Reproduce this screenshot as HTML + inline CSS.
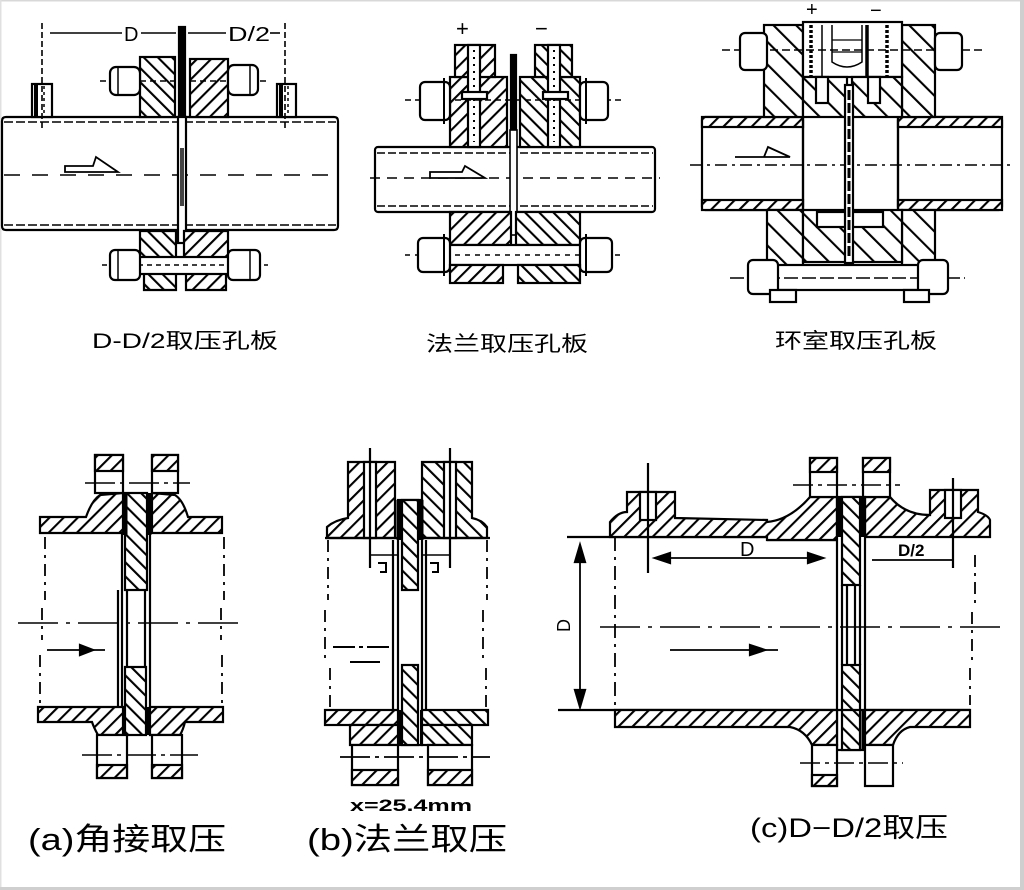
<!DOCTYPE html>
<html><head><meta charset="utf-8"><style>
html,body{margin:0;padding:0;background:#fff;}
svg{display:block}
text{font-family:"Liberation Sans","Noto Sans CJK SC",sans-serif;fill:#000;stroke:none}
</style></head><body>
<svg width="1024" height="890" viewBox="0 0 1024 890" xmlns="http://www.w3.org/2000/svg">
<defs>
<pattern id="hf" width="10" height="10" patternUnits="userSpaceOnUse" patternTransform="rotate(45)"><rect width="10" height="10" fill="#fff"/><line x1="1" y1="0" x2="1" y2="10" stroke="#000" stroke-width="2.2"/></pattern>
<pattern id="hb" width="10" height="10" patternUnits="userSpaceOnUse" patternTransform="rotate(-45)"><rect width="10" height="10" fill="#fff"/><line x1="1" y1="0" x2="1" y2="10" stroke="#000" stroke-width="2.2"/></pattern>
<pattern id="hs" width="16" height="16" patternUnits="userSpaceOnUse" patternTransform="rotate(-45)"><rect width="16" height="16" fill="#fff"/><line x1="1" y1="0" x2="1" y2="16" stroke="#000" stroke-width="2.2"/></pattern>
</defs>
<rect width="1024" height="890" fill="#fff"/>
<!-- border -->
<rect x="0" y="0" width="1024" height="1.5" fill="#d8d8d8"/>
<rect x="0" y="0" width="1.5" height="890" fill="#e0e0e0"/>
<rect x="1020" y="0" width="4" height="890" fill="#cfcfcf"/>
<rect x="0" y="887" width="1024" height="3" fill="#cfcfcf"/>

<g stroke="#000" stroke-width="2.2" fill="none">
<!-- ============ TOP LEFT ============ -->
<path d="M6,117 H334 Q338,117 338,121 V226 Q338,230 334,230 H6 Q2,230 2,226 V121 Q2,117 6,117 Z" fill="#fff"/>
<line x1="4" y1="122" x2="336" y2="122" stroke-dasharray="9 3" stroke-width="1.6"/>
<line x1="4" y1="225" x2="336" y2="225" stroke-dasharray="9 3" stroke-width="1.6"/>
<line x1="4" y1="175" x2="336" y2="175" stroke-dasharray="16 12" stroke-width="1.6"/>
<!-- taps -->
<rect x="32" y="84" width="20" height="33" fill="#fff"/>
<line x1="36" y1="84" x2="36" y2="117" stroke-width="4"/>
<line x1="44" y1="86" x2="44" y2="116" stroke-dasharray="3 3" stroke-width="1.5"/>
<rect x="277" y="84" width="19" height="33" fill="#fff"/>
<line x1="281" y1="84" x2="281" y2="117" stroke-width="4"/>
<line x1="288" y1="86" x2="288" y2="116" stroke-dasharray="3 3" stroke-width="1.5"/>
<!-- dimension -->
<line x1="42" y1="23" x2="42" y2="128" stroke-dasharray="6 3" stroke-width="1.6"/>
<line x1="285" y1="23" x2="285" y2="128" stroke-dasharray="6 3" stroke-width="1.6"/>
<line x1="50" y1="33" x2="122" y2="33" stroke-width="1.6"/>
<line x1="141" y1="33" x2="176" y2="33" stroke-width="1.6"/>
<line x1="188" y1="33" x2="226" y2="33" stroke-width="1.6"/>
<line x1="270" y1="33" x2="280" y2="33" stroke-width="1.6"/>
<!-- top flanges -->
<rect x="140" y="57" width="35" height="60" fill="url(#hb)"/>
<rect x="190" y="59" width="38" height="58" fill="url(#hf)"/>
<line x1="100" y1="81" x2="268" y2="81" stroke-dasharray="6 4" stroke-width="1.4"/>
<rect x="110" y="67" width="30" height="28" rx="6" fill="#fff"/>
<line x1="118" y1="68" x2="118" y2="94" stroke-width="1.5"/>
<rect x="228" y="65" width="30" height="30" rx="6" fill="#fff"/>
<line x1="250" y1="66" x2="250" y2="94" stroke-width="1.5"/>
<!-- plate -->
<rect x="179" y="27" width="6" height="92" fill="#000"/>
<rect x="178" y="117" width="8" height="126" fill="#fff"/>
<rect x="180" y="148" width="4" height="58" fill="#444" stroke="none"/>
<!-- bottom flanges -->
<path d="M140,231 H176 V290 H144 V272 H140 Z" fill="url(#hb)"/>
<path d="M184,231 H228 V272 H226 V290 H186 V272 H184 Z" fill="url(#hf)"/>
<rect x="122" y="257" width="128" height="17" fill="#fff"/>
<line x1="102" y1="265" x2="268" y2="265" stroke-dasharray="5 4" stroke-width="1.4"/>
<rect x="110" y="250" width="30" height="30" rx="5" fill="#fff"/>
<line x1="118" y1="251" x2="118" y2="279" stroke-width="1.5"/>
<rect x="228" y="250" width="32" height="30" rx="5" fill="#fff"/>
<line x1="250" y1="251" x2="250" y2="279" stroke-width="1.5"/>
<!-- flow arrow -->
<path d="M65,166 H93 L96,157 L118,172 H65 Z" stroke-width="1.8" fill="#fff"/>

<!-- ============ TOP MIDDLE ============ -->
<rect x="375" y="147" width="280" height="65" rx="3" fill="#fff"/>
<line x1="377" y1="153" x2="653" y2="153" stroke-dasharray="8 3" stroke-width="1.6"/>
<line x1="377" y1="206" x2="653" y2="206" stroke-dasharray="8 3" stroke-width="1.6"/>
<line x1="370" y1="178" x2="660" y2="178" stroke-dasharray="10 7" stroke-width="1.6"/>
<!-- upper flanges -->
<rect x="450" y="77" width="57" height="70" fill="url(#hf)"/>
<rect x="455" y="45" width="40" height="32" fill="url(#hf)"/>
<rect x="468" y="45" width="12" height="102" fill="#fff"/>
<line x1="474" y1="50" x2="474" y2="142" stroke-dasharray="2 5" stroke-width="2"/>
<rect x="462" y="92" width="25" height="7" fill="#fff"/>
<rect x="520" y="77" width="60" height="70" fill="url(#hb)"/>
<rect x="535" y="45" width="37" height="32" fill="url(#hb)"/>
<rect x="548" y="45" width="12" height="102" fill="#fff"/>
<line x1="554" y1="50" x2="554" y2="142" stroke-dasharray="2 5" stroke-width="2"/>
<rect x="543" y="92" width="25" height="7" fill="#fff"/>
<line x1="405" y1="100" x2="625" y2="100" stroke-dasharray="6 4" stroke-width="1.4"/>
<rect x="420" y="82" width="30" height="38" rx="5" fill="#fff"/>
<line x1="444" y1="78" x2="444" y2="124" stroke-width="2"/>
<rect x="580" y="82" width="28" height="38" rx="5" fill="#fff"/>
<line x1="586" y1="78" x2="586" y2="124" stroke-width="2"/>
<!-- plate -->
<rect x="511" y="55" width="5" height="78" fill="#000"/>
<rect x="510" y="130" width="7" height="105" fill="#fff" stroke-width="1.6"/>
<!-- lower -->
<rect x="450" y="212" width="61" height="33" fill="url(#hf)"/>
<rect x="516" y="212" width="64" height="33" fill="url(#hb)"/>
<rect x="445" y="245" width="140" height="20" fill="#fff"/>
<line x1="405" y1="255" x2="625" y2="255" stroke-dasharray="5 5" stroke-width="1.4"/>
<rect x="418" y="238" width="32" height="34" rx="5" fill="#fff"/>
<line x1="444" y1="234" x2="444" y2="276" stroke-width="2"/>
<rect x="580" y="238" width="32" height="34" rx="5" fill="#fff"/>
<line x1="586" y1="234" x2="586" y2="276" stroke-width="2"/>
<rect x="450" y="265" width="53" height="18" fill="url(#hf)"/>
<rect x="518" y="265" width="62" height="18" fill="url(#hb)"/>
<path d="M430,172 H462 L465,166 L485,178 H430 Z" stroke-width="1.8" fill="#fff"/>

<!-- ============ TOP RIGHT ============ -->
<rect x="702" y="117" width="101" height="93" rx="3" fill="#fff"/>
<rect x="702" y="117" width="101" height="10" fill="url(#hf)"/>
<rect x="702" y="200" width="101" height="10" fill="url(#hf)"/>
<rect x="898" y="117" width="104" height="93" rx="3" fill="#fff"/>
<rect x="898" y="117" width="104" height="10" fill="url(#hf)"/>
<rect x="898" y="200" width="104" height="10" fill="url(#hf)"/>
<line x1="690" y1="165" x2="1010" y2="165" stroke-dasharray="12 5 3 5" stroke-width="1.5"/>
<!-- flanges -->
<rect x="764" y="25" width="39" height="92" fill="url(#hs)"/>
<rect x="767" y="210" width="36" height="73" fill="url(#hs)"/>
<rect x="902" y="25" width="33" height="92" fill="url(#hs)"/>
<rect x="902" y="210" width="33" height="73" fill="url(#hs)"/>
<!-- chamber top -->
<rect x="803" y="22" width="99" height="55" fill="#fff"/>
<rect x="803" y="77" width="44" height="40" fill="url(#hs)"/>
<rect x="852" y="77" width="50" height="40" fill="url(#hs)"/>
<rect x="816" y="77" width="12" height="26" fill="#fff"/>
<rect x="868" y="77" width="12" height="26" fill="#fff"/>
<line x1="811" y1="25" x2="811" y2="77" stroke-width="3.5" stroke-dasharray="3 2"/>
<line x1="822" y1="25" x2="822" y2="77" stroke-width="1.5"/>
<path d="M832,25 V62 Q847,72 862,62 V25" stroke-width="1.5" fill="#fff"/>
<line x1="832" y1="40" x2="862" y2="40" stroke-width="1.2"/>
<line x1="832" y1="52" x2="862" y2="52" stroke-width="1.2"/>
<line x1="867" y1="25" x2="867" y2="77" stroke-width="3.5"/>
<line x1="887" y1="25" x2="887" y2="77" stroke-width="3.5" stroke-dasharray="3 2"/>
<line x1="806" y1="22" x2="870" y2="22" stroke-width="1.5" stroke-dasharray="2 1"/>
<!-- chamber bottom -->
<rect x="803" y="210" width="44" height="52" fill="url(#hs)"/>
<rect x="852" y="210" width="50" height="52" fill="url(#hs)"/>
<rect x="817" y="212" width="66" height="15" fill="#fff"/>
<line x1="803" y1="117" x2="803" y2="210"/>
<line x1="898" y1="117" x2="898" y2="210"/>
<!-- plate -->
<rect x="845" y="85" width="8" height="178" fill="#fff"/>
<line x1="849" y1="90" x2="849" y2="258" stroke-width="3" stroke-dasharray="10 3"/>
<!-- nuts -->
<line x1="722" y1="50" x2="985" y2="50" stroke-dasharray="8 4" stroke-width="1.4"/>
<rect x="740" y="33" width="27" height="37" rx="5" fill="#fff"/>
<rect x="935" y="33" width="27" height="37" rx="5" fill="#fff"/>
<rect x="765" y="265" width="165" height="25" fill="#fff"/>
<line x1="730" y1="278" x2="965" y2="278" stroke-dasharray="14 4" stroke-width="1.4"/>
<rect x="748" y="260" width="30" height="34" rx="5" fill="#fff"/>
<rect x="918" y="260" width="30" height="34" rx="5" fill="#fff"/>
<rect x="770" y="290" width="26" height="12" fill="#fff"/>
<rect x="904" y="290" width="25" height="12" fill="#fff"/>
<path d="M735,157 H764 L768,147 L790,157 Z" stroke-width="1.8" fill="#fff"/>

<!-- ============ BOTTOM LEFT (a) ============ -->
<rect x="95" y="455" width="28" height="38" fill="#fff"/>
<rect x="95" y="455" width="28" height="16" fill="url(#hf)"/>
<rect x="152" y="455" width="26" height="38" fill="#fff"/>
<rect x="152" y="455" width="26" height="16" fill="url(#hf)"/>
<line x1="85" y1="483" x2="190" y2="483" stroke-dasharray="30 5 4 5" stroke-width="1.6"/>
<path d="M40,517 H86 Q92,500 100,495 L123,493 V533 H40 Z" fill="url(#hf)"/>
<path d="M152,493 L175,495 Q183,500 188,517 H222 V533 H152 Z" fill="url(#hf)"/>
<rect x="125" y="493" width="22" height="97" fill="url(#hb)"/>
<line x1="125" y1="493" x2="125" y2="535" stroke-width="5"/>
<line x1="149" y1="493" x2="149" y2="535" stroke-width="5"/>
<line x1="118" y1="590" x2="118" y2="707"/>
<line x1="122" y1="533" x2="122" y2="707"/>
<line x1="127" y1="590" x2="127" y2="667"/>
<line x1="145" y1="590" x2="145" y2="667"/>
<line x1="150" y1="533" x2="150" y2="707"/>
<rect x="125" y="667" width="21" height="68" fill="url(#hb)"/>
<path d="M38,707 H123 V735 H98 Q94,728 92,722 H38 Z" fill="url(#hf)"/>
<path d="M150,707 H223 V722 H185 Q183,730 180,735 H150 Z" fill="url(#hf)"/>
<line x1="148" y1="707" x2="148" y2="735" stroke-width="5"/>
<rect x="97" y="735" width="30" height="43" fill="#fff"/>
<rect x="97" y="765" width="30" height="13" fill="url(#hf)"/>
<rect x="152" y="735" width="30" height="43" fill="#fff"/>
<rect x="152" y="765" width="30" height="13" fill="url(#hf)"/>
<line x1="82" y1="755" x2="198" y2="755" stroke-dasharray="30 5 4 5" stroke-width="1.6"/>
<path d="M45,537 V600 M42,608 V640 M40,655 V707" stroke-dasharray="12 6 3 6" stroke-width="1.8"/>
<path d="M224,537 V600 M221,608 V640 M222,655 V707" stroke-dasharray="12 6 3 6" stroke-width="1.8"/>
<line x1="18" y1="623" x2="243" y2="623" stroke-dasharray="40 8 4 8" stroke-width="1.6"/>
<line x1="47" y1="650" x2="105" y2="650" stroke-width="1.8"/>
<path d="M80,645 L93,650 L80,655 Z" fill="#000"/>

<!-- ============ BOTTOM MIDDLE (b) ============ -->
<path d="M348,462 H395 V538 H327 V527 Q335,520 348,518 Z" fill="url(#hf)"/>
<rect x="364" y="462" width="12" height="76" fill="#fff"/>
<path d="M422,462 H472 V518 Q482,520 487,527 V538 H422 Z" fill="url(#hb)"/>
<rect x="444" y="462" width="12" height="76" fill="#fff"/>
<line x1="370" y1="448" x2="370" y2="568"/>
<line x1="450" y1="448" x2="450" y2="568"/>
<line x1="325" y1="538" x2="490" y2="538"/>
<line x1="370" y1="555" x2="398" y2="555" stroke-width="1.6"/>
<line x1="450" y1="555" x2="422" y2="555" stroke-width="1.6"/>
<path d="M378,563 H386 V572 H380" stroke-width="2"/>
<path d="M430,563 H438 V572 H432" stroke-width="2"/>
<rect x="398" y="500" width="24" height="245" fill="#fff"/>
<rect x="402" y="500" width="16" height="90" fill="url(#hb)"/>
<rect x="402" y="665" width="16" height="80" fill="url(#hb)"/>
<line x1="399" y1="500" x2="399" y2="540" stroke-width="5"/>
<line x1="421" y1="500" x2="421" y2="540" stroke-width="5"/>
<line x1="400" y1="710" x2="400" y2="745" stroke-width="5"/>
<line x1="423" y1="710" x2="423" y2="745" stroke-width="6"/>
<line x1="393" y1="540" x2="393" y2="710"/>
<line x1="426" y1="540" x2="426" y2="710"/>
<rect x="325" y="710" width="73" height="15" fill="url(#hf)"/>
<rect x="422" y="710" width="66" height="15" fill="url(#hb)"/>
<rect x="350" y="725" width="48" height="20" fill="url(#hf)"/>
<rect x="422" y="725" width="50" height="20" fill="url(#hb)"/>
<rect x="352" y="745" width="46" height="40" fill="#fff"/>
<rect x="352" y="770" width="46" height="15" fill="url(#hf)"/>
<rect x="428" y="745" width="44" height="40" fill="#fff"/>
<rect x="428" y="770" width="44" height="15" fill="url(#hf)"/>
<line x1="340" y1="757" x2="490" y2="757" stroke-width="1.8" stroke-dasharray="30 5 4 5"/>
<path d="M328,540 V600 M325,610 V660 M330,668 V710" stroke-dasharray="12 6 3 6" stroke-width="1.8"/>
<path d="M487,540 V600 M483,610 V660 M486,668 V710" stroke-dasharray="12 6 3 6" stroke-width="1.8"/>
<line x1="333" y1="647" x2="390" y2="647" stroke-dasharray="22 4 4 4" stroke-width="2"/>
<line x1="350" y1="662" x2="380" y2="662" stroke-width="2"/>

<!-- ============ BOTTOM RIGHT (c) ============ -->
<line x1="567" y1="537" x2="767" y2="537"/>
<line x1="767" y1="540" x2="837" y2="540"/>
<path d="M610,522 Q618,512 627,512 V492 H675 V518 L767,520 V522 Q790,520 810,497 H837 V540 H767 V537 H610 Z" fill="url(#hf)"/>
<rect x="640" y="492" width="16" height="28" fill="#fff"/>
<path d="M865,497 H890 Q905,515 930,515 V490 H978 V512 Q988,515 990,520 V537 H865 Z" fill="url(#hf)"/>
<rect x="945" y="490" width="16" height="28" fill="#fff"/>
<line x1="648" y1="463" x2="648" y2="573"/>
<line x1="953" y1="478" x2="953" y2="568"/>
<rect x="810" y="458" width="27" height="39" fill="#fff"/>
<rect x="810" y="458" width="27" height="14" fill="url(#hf)"/>
<rect x="863" y="458" width="27" height="39" fill="#fff"/>
<rect x="863" y="458" width="27" height="14" fill="url(#hf)"/>
<line x1="793" y1="485" x2="900" y2="485" stroke-dasharray="20 5 4 5" stroke-width="1.6"/>
<rect x="837" y="497" width="28" height="253" fill="#fff"/>
<rect x="842" y="497" width="18" height="88" fill="url(#hb)"/>
<rect x="842" y="665" width="18" height="85" fill="url(#hb)"/>
<line x1="839" y1="497" x2="839" y2="537" stroke-width="5"/>
<line x1="863" y1="497" x2="863" y2="537" stroke-width="5"/>
<line x1="864" y1="710" x2="864" y2="750" stroke-width="5"/>
<line x1="842" y1="585" x2="842" y2="665"/>
<line x1="847" y1="585" x2="847" y2="665"/>
<line x1="855" y1="585" x2="855" y2="665"/>
<line x1="860" y1="585" x2="860" y2="665"/>
<!-- dims -->
<line x1="655" y1="558" x2="823" y2="558" stroke-width="1.8"/>
<path d="M655,558 L670,553 L670,563 Z" fill="#000"/>
<path d="M823,558 L808,553 L808,563 Z" fill="#000"/>
<line x1="872" y1="560" x2="953" y2="560" stroke-width="1.8"/>
<line x1="580" y1="545" x2="580" y2="707" stroke-width="1.8"/>
<path d="M580,545 L575,562 L585,562 Z" fill="#000"/>
<path d="M580,707 L575,690 L585,690 Z" fill="#000"/>
<!-- bottom -->
<line x1="558" y1="710" x2="970" y2="710"/>
<path d="M615,710 H837 V745 H812 Q805,730 790,727 H615 Z" fill="url(#hf)"/>
<path d="M865,710 H970 V727 H910 Q898,730 893,745 H865 Z" fill="url(#hf)"/>
<rect x="812" y="745" width="25" height="41" fill="#fff"/>
<rect x="812" y="775" width="25" height="11" fill="url(#hf)"/>
<rect x="865" y="745" width="28" height="41" fill="#fff"/>
<line x1="800" y1="763" x2="903" y2="763" stroke-dasharray="20 5 4 5" stroke-width="1.6"/>
<line x1="615" y1="537" x2="615" y2="710" stroke-dasharray="14 6 3 6" stroke-width="1.8"/>
<path d="M975,555 V605 M972,612 V660 M970,668 V705" stroke-dasharray="12 6 3 6" stroke-width="1.8"/>
<line x1="600" y1="627" x2="1005" y2="627" stroke-dasharray="40 8 4 8" stroke-width="1.6"/>
<line x1="670" y1="650" x2="778" y2="650" stroke-width="1.8"/>
<path d="M750,645 L765,650 L750,655 Z" fill="#000"/>
</g>

<!-- ============ TEXT ============ -->
<text x="124" y="41" font-size="20">D</text>
<text x="228" y="41" font-size="20" textLength="42" lengthAdjust="spacingAndGlyphs">D/2</text>
<text x="456" y="36" font-size="22">+</text>
<text x="535" y="36" font-size="22">−</text>
<text x="806" y="16" font-size="20">+</text>
<text x="870" y="17" font-size="20">−</text>
<text x="92" y="348" font-size="21" textLength="186" lengthAdjust="spacingAndGlyphs">D-D/2取压孔板</text>
<text x="426" y="351" font-size="21" textLength="162" lengthAdjust="spacingAndGlyphs">法兰取压孔板</text>
<text x="775" y="348" font-size="21" textLength="162" lengthAdjust="spacingAndGlyphs">环室取压孔板</text>
<text x="740" y="556" font-size="20">D</text>
<text x="898" y="556" font-size="17" font-weight="bold">D/2</text>
<text x="0" y="0" font-size="18" transform="translate(570,632) rotate(-90)">D</text>
<text x="350" y="811" font-size="17" font-weight="bold" textLength="122" lengthAdjust="spacingAndGlyphs">x=25.4mm</text>
<text x="28" y="850" font-size="31" textLength="198" lengthAdjust="spacingAndGlyphs">(a)角接取压</text>
<text x="307" y="850" font-size="31" textLength="200" lengthAdjust="spacingAndGlyphs">(b)法兰取压</text>
<text x="750" y="837" font-size="27" textLength="198" lengthAdjust="spacingAndGlyphs">(c)D−D/2取压</text>
</svg>
</body></html>
